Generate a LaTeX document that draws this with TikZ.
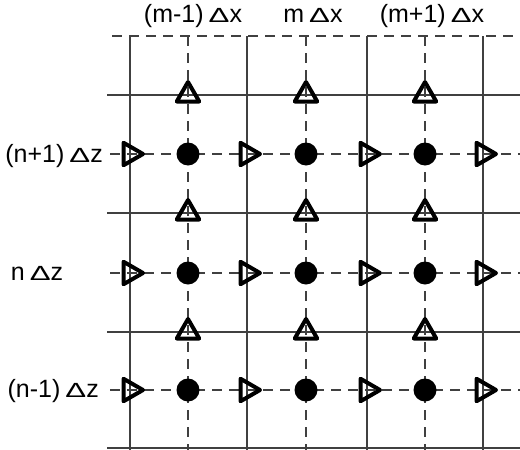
\documentclass[tikz,border=0pt]{standalone}
\usepackage{fontspec}
\setmainfont{Liberation Sans}
\usetikzlibrary{shapes.geometric}
\newcommand{\dlt}{\scalebox{1.25}[0.82]{Δ}}
\begin{document}
\begin{tikzpicture}[x=1pt,y=-1pt,
  solidline/.style={draw=black!75,line width=1.8pt},
  dashline/.style={draw=black!75,line width=1.8pt,dash pattern=on 10pt off 7pt},
  dotmark/.style={circle,fill=black,inner sep=0pt,minimum size=23pt},
  tri/.style={regular polygon,regular polygon sides=3,draw=black,line width=4pt,line join=round,inner sep=0pt,minimum size=26pt},
  triup/.style={tri},
  triright/.style={tri,shape border rotate=-90},
  lbl/.style={font=\fontsize{25}{28}\selectfont,inner sep=0pt}
]
\useasboundingbox (0,0) rectangle (520,450);
% dashed grid lines
\draw[dashline] (112,36) -- (520,36);
\foreach \y in {154,273,390} \draw[dashline] (110,\y) -- (520,\y);
\foreach \x in {188,306,425} \draw[dashline] (\x,36) -- (\x,450);
% solid grid lines
\foreach \y in {95,213,332,448} \draw[solidline] (107,\y) -- (520,\y);
\foreach \x in {130,247,367,483} \draw[solidline] (\x,36) -- (\x,450);
% markers
\foreach \x/\i in {188/1,306/2,425/3}{
  \foreach \y/\j in {154/1,273/2,390/3} \node[dotmark] (d\i\j) at (\x,\y) {};
  \foreach \y/\j in {95/1,213/2,332/3} \node[triup] (u\i\j) at (\x,\y) {};
}
\foreach \x/\i in {130/1,247/2,367/3,483/4}
  \foreach \y/\j in {154/1,273/2,390/3} \node[triright] (r\i\j) at (\x,\y) {};
% labels
\node[lbl,anchor=base] (lx1) at (193,22) {(m-1)\hspace{5pt}\dlt x};
\node[lbl,anchor=base] (lx2) at (313,22) {m\hspace{5pt}\dlt x};
\node[lbl,anchor=base] (lx3) at (432,22) {(m+1)\hspace{5pt}\dlt x};
\node[lbl,anchor=base east] (lz1) at (103,162) {(n+1)\hspace{5pt}\dlt z};
\node[lbl,anchor=base] (lz2) at (37,280) {n\hspace{5pt}\dlt z};
\node[lbl,anchor=base east] (lz3) at (99,397) {(n-1)\hspace{5pt}\dlt z};
\end{tikzpicture}
\end{document}
